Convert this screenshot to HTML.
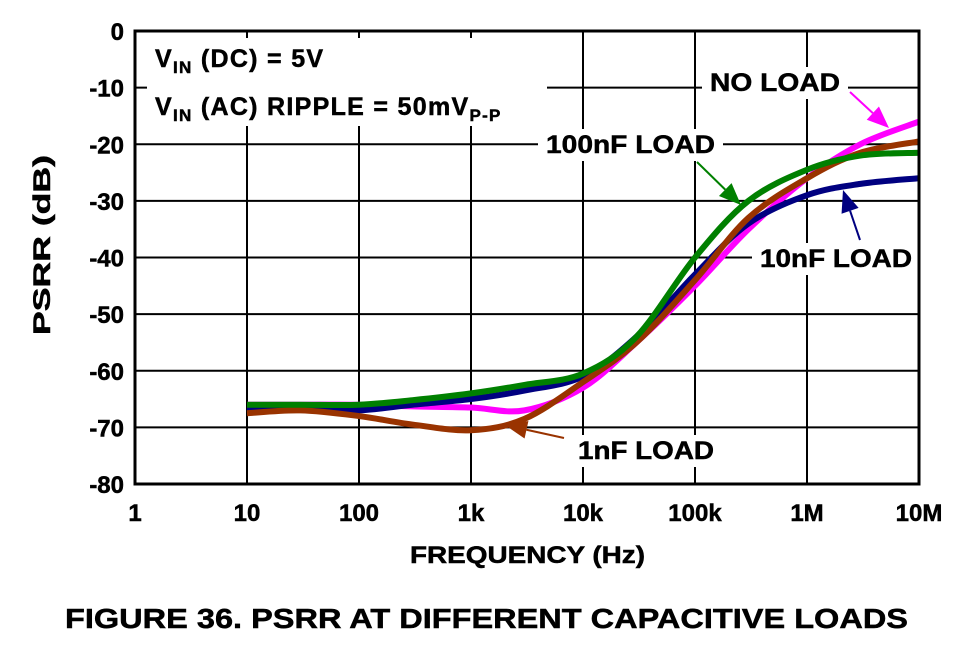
<!DOCTYPE html>
<html><head><meta charset="utf-8"><style>
body{margin:0;background:#fff;}
svg text{font-family:"Liberation Sans",Arial,sans-serif;font-weight:bold;fill:#000;stroke:#000;stroke-width:0.5;}
</style></head><body>
<svg width="960" height="656" viewBox="0 0 960 656">
<g id="grid"></g>
<rect x="147" y="38" width="400" height="88" fill="#fff"/>
<g id="series"></g>
<g id="ann"></g>
<g id="axes"></g>
<text x="155" y="67" font-size="25" letter-spacing="1.3">V<tspan font-size="17" dy="6">IN</tspan><tspan dy="-6"> (DC) = 5V</tspan></text>
<text x="155" y="115" font-size="25" letter-spacing="1.3">V<tspan font-size="17" dy="6">IN</tspan><tspan dy="-6"> (AC) RIPPLE = 50mV</tspan><tspan font-size="17" dy="6">P-P</tspan></text>
<text x="410" y="563" font-size="24" textLength="235" lengthAdjust="spacingAndGlyphs">FREQUENCY (Hz)</text>
<text transform="translate(50,335) rotate(-90)" font-size="24" textLength="180" lengthAdjust="spacingAndGlyphs">PSRR (dB)</text>
<text x="65" y="628" font-size="28" textLength="843" lengthAdjust="spacingAndGlyphs">FIGURE 36.  PSRR AT DIFFERENT CAPACITIVE LOADS</text>
</svg>
<script>
const freqs=[10,30,100,300,1e3,3e3,1e4,3e4,1e5,3e5,1e6,3e6,1e7];
const noLoad=[-66,-66,-66,-66.3,-66.5,-67,-63,-55,-45,-35,-26,-20,-16];
const load10n=[-66.5,-66.8,-67,-66,-65,-63.5,-61,-54,-43,-34,-29,-27,-26];
const load100n=[-66,-66,-66,-65.2,-64,-62.5,-60.5,-54,-40,-30,-24.5,-22,-21.5];
const load1n=[-67.5,-67,-68,-69.5,-70.5,-68.5,-62,-55,-44,-33,-26,-21.5,-19.5];
const xTicks=["1","10","100","1k","10k","100k","1M","10M"];
const yTicks=[0,-10,-20,-30,-40,-50,-60,-70,-80];
const X0=135,DEC=112,Y0=31,YB=484;
const xs=f=>X0+Math.log10(f)*DEC;
const ys=v=>Y0+(0-v)/80*(YB-Y0);
const NS="http://www.w3.org/2000/svg";
function mk(t,a,p){const e=document.createElementNS(NS,t);for(const k in a)e.setAttribute(k,a[k]);p.appendChild(e);return e;}
const grid=document.getElementById('grid'),axes=document.getElementById('axes'),ser=document.getElementById('series'),ann=document.getElementById('ann');
for(let i=0;i<xTicks.length;i++){const x=X0+i*DEC;
 const l=mk('line',{x1:x,x2:x,y1:Y0,y2:YB,stroke:'#000','stroke-width':2},grid);
 
 
 const t=mk('text',{x:x,y:521,'font-size':24,'text-anchor':'middle'},axes);t.textContent=xTicks[i];
 
 }
yTicks.forEach(v=>{const y=ys(v);
 const l=mk('line',{x1:X0,x2:X0+7*DEC,y1:y,y2:y,stroke:'#000','stroke-width':2},grid);
 
 
 const t=mk('text',{x:124,y:y+9,'font-size':24,'text-anchor':'end'},axes);t.textContent=v;
 
 });
const fr=mk('rect',{x:X0,y:Y0,width:7*DEC,height:YB-Y0,fill:'none',stroke:'#000','stroke-width':3},axes);


function path(vals){const p=freqs.map((f,i)=>[xs(f),ys(vals[i])]);let d='M'+p[0][0]+','+p[0][1];
 for(let i=0;i<p.length-1;i++){const a=p[Math.max(0,i-1)],b=p[i],c=p[i+1],e=p[Math.min(p.length-1,i+2)];
 d+=' C'+(b[0]+(c[0]-a[0])/6)+','+(b[1]+(c[1]-a[1])/6)+' '+(c[0]-(e[0]-b[0])/6)+','+(c[1]-(e[1]-b[1])/6)+' '+c[0]+','+c[1];}return d;}
[[noLoad,'#ff00ff','no-load-line'],[load10n,'#000080','10nf-load-line'],[load1n,'#993300','1nf-load-line'],[load100n,'#008000','100nf-load-line']].forEach(s=>{
 const e=mk('path',{d:path(s[0]),fill:'none',stroke:s[1],'stroke-width':6},ser);
 
 });
function label(txt,x,y,w,name){const r=mk('rect',{x:x-8,y:y-24,width:w+16,height:32,fill:'#fff'},ann);
 
 
 const t=mk('text',{x:x,y:y,'font-size':25,textLength:w,lengthAdjust:'spacingAndGlyphs'},ann);t.textContent=txt;
 
 }
function arrow(x1,y1,x2,y2,c,name){const a=Math.atan2(y2-y1,x2-x1),L=22,W=9;
 const bx=x2-L*Math.cos(a),by=y2-L*Math.sin(a);
 const l=mk('line',{x1:x1,y1:y1,x2:bx,y2:by,stroke:c,'stroke-width':2},ann);
 
 
 const p=mk('polygon',{points:x2+','+y2+' '+(bx+W*Math.sin(a))+','+(by-W*Math.cos(a))+' '+(bx-W*Math.sin(a))+','+(by+W*Math.cos(a)),fill:c},ann);
 
 }
label('NO LOAD',710,91,130,'no-load-label');
label('100nF LOAD',546,153,169,'100nf-load-label');
label('10nF LOAD',760,267,152,'10nf-load-label');
label('1nF LOAD',578,459,136,'1nf-load-label');
arrow(850,92,889,128,'#ff00ff','no-load-arrow');
arrow(697,162,741,205,'#008000','100nf-arrow');
arrow(860,240,843,190,'#000080','10nf-arrow');
arrow(564,438,505,425,'#993300','1nf-arrow');
</script>
</body></html>
